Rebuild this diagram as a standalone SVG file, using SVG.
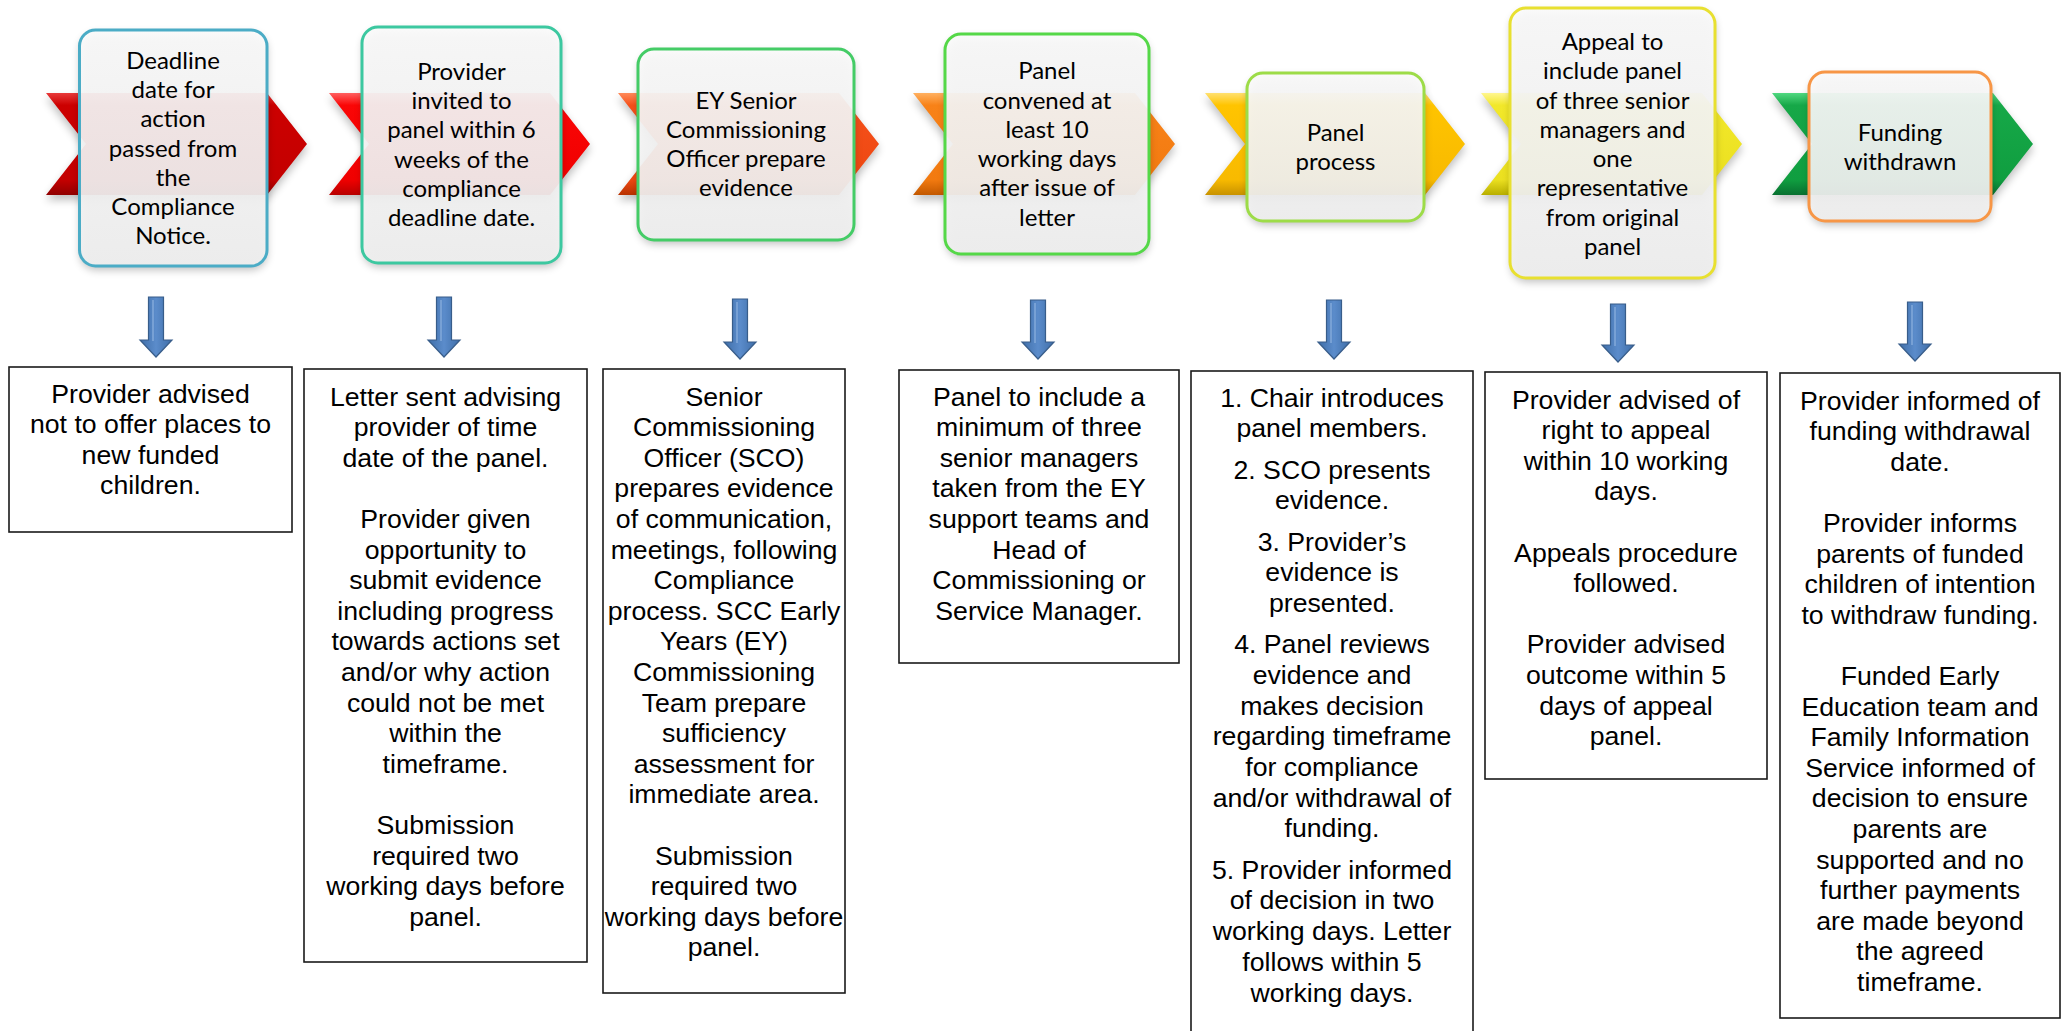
<svg xmlns="http://www.w3.org/2000/svg" width="2071" height="1031" viewBox="0 0 2071 1031">
<style>
.tt{font-family:Lato,"Open Sans",sans-serif;font-size:24px;fill:#000;text-anchor:middle}
.bt{font-family:"Liberation Sans",Arial,sans-serif;font-size:26.67px;fill:#000;text-anchor:middle}
.box{fill:url(#boxg);fill-opacity:0.92;stroke-width:3}
.db{fill:#fff;stroke:#1a1a1a;stroke-width:1.6}
.shadow{fill:#000;opacity:0.25;filter:url(#blur)}
.arr{fill:url(#arrg);stroke:#385d8a;stroke-width:1.2}
.arrh{stroke:#8fb3e0;stroke-width:1.5;fill:none;opacity:0.8}
</style>
<defs>
<filter id="blur" x="-20%" y="-20%" width="140%" height="140%"><feGaussianBlur stdDeviation="4"/></filter>
<linearGradient id="boxg" x1="0" y1="0" x2="0" y2="1"><stop offset="0" stop-color="#fbfbfb"/><stop offset="1" stop-color="#f0f0f0"/></linearGradient>
<linearGradient id="arrg" x1="0" y1="0" x2="1" y2="0"><stop offset="0" stop-color="#3f6ea8"/><stop offset="0.5" stop-color="#5b8ccb"/><stop offset="1" stop-color="#3f6ea8"/></linearGradient>
<linearGradient id="c1" x1="0" y1="0" x2="0" y2="1"><stop offset="0" stop-color="#e83a3a"/><stop offset="0.12" stop-color="#cc0000"/><stop offset="0.85" stop-color="#c40000"/><stop offset="1" stop-color="#900000"/></linearGradient>
<linearGradient id="c2" x1="0" y1="0" x2="0" y2="1"><stop offset="0" stop-color="#ff6060"/><stop offset="0.12" stop-color="#fa0606"/><stop offset="0.85" stop-color="#f00000"/><stop offset="1" stop-color="#b80000"/></linearGradient>
<linearGradient id="c3" x1="0" y1="0" x2="0" y2="1"><stop offset="0" stop-color="#ff8a5a"/><stop offset="0.12" stop-color="#f5501a"/><stop offset="0.85" stop-color="#ee4812"/><stop offset="1" stop-color="#b83200"/></linearGradient>
<linearGradient id="c4" x1="0" y1="0" x2="0" y2="1"><stop offset="0" stop-color="#ffb060"/><stop offset="0.12" stop-color="#f88218"/><stop offset="0.85" stop-color="#f27a10"/><stop offset="1" stop-color="#c25800"/></linearGradient>
<linearGradient id="c5" x1="0" y1="0" x2="0" y2="1"><stop offset="0" stop-color="#ffe070"/><stop offset="0.12" stop-color="#ffc400"/><stop offset="0.85" stop-color="#f8ba00"/><stop offset="1" stop-color="#c89200"/></linearGradient>
<linearGradient id="c6" x1="0" y1="0" x2="0" y2="1"><stop offset="0" stop-color="#fff690"/><stop offset="0.12" stop-color="#f2e82a"/><stop offset="0.85" stop-color="#ebe020"/><stop offset="1" stop-color="#b8ae00"/></linearGradient>
<linearGradient id="c7" x1="0" y1="0" x2="0" y2="1"><stop offset="0" stop-color="#50d880"/><stop offset="0.12" stop-color="#16a848"/><stop offset="0.85" stop-color="#109e40"/><stop offset="1" stop-color="#087030"/></linearGradient>
</defs>
<rect width="2071" height="1031" fill="#fff"/>

<g id="step1">
<path class="shadow" d="M46,98 H267 L307,149 L267,200 H46 L86,149 Z"/>
<path fill="url(#c1)" d="M46,93 H267 L307,144 L267,195 H46 L86,144 Z"/>
<rect class="shadow" x="80" y="34" width="187" height="236" rx="16"/>
<rect class="box" stroke="#4bacc6" x="79.5" y="30" width="187.5" height="236" rx="16"/>
<text class="tt" x="173" y="68.6"><tspan x="173">Deadline</tspan><tspan x="173" dy="29.3">date for</tspan><tspan x="173" dy="29.3">action</tspan><tspan x="173" dy="29.3">passed from</tspan><tspan x="173" dy="29.3">the</tspan><tspan x="173" dy="29.3">Compliance</tspan><tspan x="173" dy="29.3">Notice.</tspan></text>
</g>

<g id="step2">
<path class="shadow" d="M329,98 H550 L590,149 L550,200 H329 L369,149 Z"/>
<path fill="url(#c2)" d="M329,93 H550 L590,144 L550,195 H329 L369,144 Z"/>
<rect class="shadow" x="363" y="31" width="198" height="236" rx="16"/>
<rect class="box" stroke="#3cc8a0" x="362" y="27" width="199" height="236" rx="16"/>
<text class="tt" x="461.5" y="79.75"><tspan x="461.5">Provider</tspan><tspan x="461.5" dy="29.3">invited to</tspan><tspan x="461.5" dy="29.3">panel within 6</tspan><tspan x="461.5" dy="29.3">weeks of the</tspan><tspan x="461.5" dy="29.3">compliance</tspan><tspan x="461.5" dy="29.3">deadline date.</tspan></text>
</g>

<g id="step3">
<path class="shadow" d="M618,98 H839 L879,149 L839,200 H618 L658,149 Z"/>
<path fill="url(#c3)" d="M618,93 H839 L879,144 L839,195 H618 L658,144 Z"/>
<rect class="shadow" x="639" y="53" width="215" height="191" rx="16"/>
<rect class="box" stroke="#44cc66" x="638" y="49" width="216" height="191" rx="16"/>
<text class="tt" x="746" y="108.5"><tspan x="746">EY Senior</tspan><tspan x="746" dy="29.3">Commissioning</tspan><tspan x="746" dy="29.3">Officer prepare</tspan><tspan x="746" dy="29.3">evidence</tspan></text>
</g>

<g id="step4">
<path class="shadow" d="M913,98 H1135 L1175,149 L1135,200 H913 L953,149 Z"/>
<path fill="url(#c4)" d="M913,93 H1135 L1175,144 L1135,195 H913 L953,144 Z"/>
<rect class="shadow" x="946" y="38" width="203" height="220" rx="16"/>
<rect class="box" stroke="#55d848" x="945" y="34" width="204" height="220" rx="16"/>
<text class="tt" x="1047" y="79.25"><tspan x="1047">Panel</tspan><tspan x="1047" dy="29.3">convened at</tspan><tspan x="1047" dy="29.3">least 10</tspan><tspan x="1047" dy="29.3">working days</tspan><tspan x="1047" dy="29.3">after issue of</tspan><tspan x="1047" dy="29.3">letter</tspan></text>
</g>

<g id="step5">
<path class="shadow" d="M1205,98 H1425 L1465,149 L1425,200 H1205 L1245,149 Z"/>
<path fill="url(#c5)" d="M1205,93 H1425 L1465,144 L1425,195 H1205 L1245,144 Z"/>
<rect class="shadow" x="1248" y="77" width="176" height="148" rx="16"/>
<rect class="box" stroke="#9ddc48" x="1247" y="73" width="177" height="148" rx="16"/>
<text class="tt" x="1335.5" y="140.85"><tspan x="1335.5">Panel</tspan><tspan x="1335.5" dy="29.3">process</tspan></text>
</g>

<g id="step6">
<path class="shadow" d="M1481,98 H1702 L1742,149 L1702,200 H1481 L1521,149 Z"/>
<path fill="url(#c6)" d="M1481,93 H1702 L1742,144 L1702,195 H1481 L1521,144 Z"/>
<rect class="shadow" x="1511" y="12" width="204" height="270" rx="16"/>
<rect class="box" stroke="#e8e030" x="1510" y="8" width="205" height="270" rx="16"/>
<text class="tt" x="1612.5" y="49.95"><tspan x="1612.5">Appeal to</tspan><tspan x="1612.5" dy="29.3">include panel</tspan><tspan x="1612.5" dy="29.3">of three senior</tspan><tspan x="1612.5" dy="29.3">managers and</tspan><tspan x="1612.5" dy="29.3">one</tspan><tspan x="1612.5" dy="29.3">representative</tspan><tspan x="1612.5" dy="29.3">from original</tspan><tspan x="1612.5" dy="29.3">panel</tspan></text>
</g>

<g id="step7">
<path class="shadow" d="M1772,98 H1993 L2033,149 L1993,200 H1772 L1812,149 Z"/>
<path fill="url(#c7)" d="M1772,93 H1993 L2033,144 L1993,195 H1772 L1812,144 Z"/>
<rect class="shadow" x="1810" y="76" width="181" height="149" rx="16"/>
<rect class="box" stroke="#f79646" x="1809" y="72" width="182" height="149" rx="16"/>
<text class="tt" x="1900" y="140.85"><tspan x="1900">Funding</tspan><tspan x="1900" dy="29.3">withdrawn</tspan></text>
</g>

<g id="connectors">
<path class="arr" d="M148.5,297 H163.5 V340 H172 L156,357 L140,340 H148.5 Z"/>
<path class="arrh" d="M153,300 V341"/>
<path class="arr" d="M436.5,297 H451.5 V340 H460 L444,357 L428,340 H436.5 Z"/>
<path class="arrh" d="M441,300 V341"/>
<path class="arr" d="M732.5,299 H747.5 V342 H756 L740,359 L724,342 H732.5 Z"/>
<path class="arrh" d="M737,302 V343"/>
<path class="arr" d="M1030.5,300 H1045.5 V342 H1054 L1038,359 L1022,342 H1030.5 Z"/>
<path class="arrh" d="M1035,303 V343"/>
<path class="arr" d="M1326.5,300 H1341.5 V342 H1350 L1334,359 L1318,342 H1326.5 Z"/>
<path class="arrh" d="M1331,303 V343"/>
<path class="arr" d="M1610.5,304 H1625.5 V345 H1634 L1618,362 L1602,345 H1610.5 Z"/>
<path class="arrh" d="M1615,307 V346"/>
<path class="arr" d="M1907.5,302 H1922.5 V344 H1931 L1915,361 L1899,344 H1907.5 Z"/>
<path class="arrh" d="M1912,305 V345"/>
</g>

<g id="detail1">
<rect class="db" x="9" y="367" width="283" height="165"/>
<text class="bt" x="150.5" y="402.5"><tspan x="150.5">Provider advised</tspan><tspan x="150.5" dy="30.6">not to offer places to</tspan><tspan x="150.5" dy="30.6">new funded</tspan><tspan x="150.5" dy="30.6">children.</tspan></text>
</g>

<g id="detail2">
<rect class="db" x="304" y="369" width="283" height="593"/>
<text class="bt" x="445.5" y="405.5"><tspan x="445.5">Letter sent advising</tspan><tspan x="445.5" dy="30.6">provider of time</tspan><tspan x="445.5" dy="30.6">date of the panel.</tspan><tspan x="445.5" dy="61.2">Provider given</tspan><tspan x="445.5" dy="30.6">opportunity to</tspan><tspan x="445.5" dy="30.6">submit evidence</tspan><tspan x="445.5" dy="30.6">including progress</tspan><tspan x="445.5" dy="30.6">towards actions set</tspan><tspan x="445.5" dy="30.6">and/or why action</tspan><tspan x="445.5" dy="30.6">could not be met</tspan><tspan x="445.5" dy="30.6">within the</tspan><tspan x="445.5" dy="30.6">timeframe.</tspan><tspan x="445.5" dy="61.2">Submission</tspan><tspan x="445.5" dy="30.6">required two</tspan><tspan x="445.5" dy="30.6">working days before</tspan><tspan x="445.5" dy="30.6">panel.</tspan></text>
</g>

<g id="detail3">
<rect class="db" x="603" y="369" width="242" height="624"/>
<text class="bt" x="724" y="405.5"><tspan x="724">Senior</tspan><tspan x="724" dy="30.6">Commissioning</tspan><tspan x="724" dy="30.6">Officer (SCO)</tspan><tspan x="724" dy="30.6">prepares evidence</tspan><tspan x="724" dy="30.6">of communication,</tspan><tspan x="724" dy="30.6">meetings, following</tspan><tspan x="724" dy="30.6">Compliance</tspan><tspan x="724" dy="30.6">process. SCC Early</tspan><tspan x="724" dy="30.6">Years (EY)</tspan><tspan x="724" dy="30.6">Commissioning</tspan><tspan x="724" dy="30.6">Team prepare</tspan><tspan x="724" dy="30.6">sufficiency</tspan><tspan x="724" dy="30.6">assessment for</tspan><tspan x="724" dy="30.6">immediate area.</tspan><tspan x="724" dy="61.2">Submission</tspan><tspan x="724" dy="30.6">required two</tspan><tspan x="724" dy="30.6">working days before</tspan><tspan x="724" dy="30.6">panel.</tspan></text>
</g>

<g id="detail4">
<rect class="db" x="899" y="370" width="280" height="293"/>
<text class="bt" x="1039" y="405.5"><tspan x="1039">Panel to include a</tspan><tspan x="1039" dy="30.6">minimum of three</tspan><tspan x="1039" dy="30.6">senior managers</tspan><tspan x="1039" dy="30.6">taken from the EY</tspan><tspan x="1039" dy="30.6">support teams and</tspan><tspan x="1039" dy="30.6">Head of</tspan><tspan x="1039" dy="30.6">Commissioning or</tspan><tspan x="1039" dy="30.6">Service Manager.</tspan></text>
</g>

<g id="detail5">
<rect class="db" x="1191" y="371" width="282" height="680"/>
<text class="bt" x="1332" y="406.5"><tspan x="1332">1. Chair introduces</tspan><tspan x="1332" dy="30.7">panel members.</tspan><tspan x="1332" dy="41.3">2. SCO presents</tspan><tspan x="1332" dy="30.7">evidence.</tspan><tspan x="1332" dy="41.3">3. Provider’s</tspan><tspan x="1332" dy="30.7">evidence is</tspan><tspan x="1332" dy="30.7">presented.</tspan><tspan x="1332" dy="41.3">4. Panel reviews</tspan><tspan x="1332" dy="30.7">evidence and</tspan><tspan x="1332" dy="30.7">makes decision</tspan><tspan x="1332" dy="30.7">regarding timeframe</tspan><tspan x="1332" dy="30.7">for compliance</tspan><tspan x="1332" dy="30.7">and/or withdrawal of</tspan><tspan x="1332" dy="30.7">funding.</tspan><tspan x="1332" dy="41.3">5. Provider informed</tspan><tspan x="1332" dy="30.7">of decision in two</tspan><tspan x="1332" dy="30.7">working days. Letter</tspan><tspan x="1332" dy="30.7">follows within 5</tspan><tspan x="1332" dy="30.7">working days.</tspan></text>
</g>

<g id="detail6">
<rect class="db" x="1485" y="372" width="282" height="407"/>
<text class="bt" x="1626" y="408.5"><tspan x="1626">Provider advised of</tspan><tspan x="1626" dy="30.6">right to appeal</tspan><tspan x="1626" dy="30.6">within 10 working</tspan><tspan x="1626" dy="30.6">days.</tspan><tspan x="1626" dy="61.2">Appeals procedure</tspan><tspan x="1626" dy="30.6">followed.</tspan><tspan x="1626" dy="61.2">Provider advised</tspan><tspan x="1626" dy="30.6">outcome within 5</tspan><tspan x="1626" dy="30.6">days of appeal</tspan><tspan x="1626" dy="30.6">panel.</tspan></text>
</g>

<g id="detail7">
<rect class="db" x="1780" y="373" width="280" height="645"/>
<text class="bt" x="1920" y="409.5"><tspan x="1920">Provider informed of</tspan><tspan x="1920" dy="30.6">funding withdrawal</tspan><tspan x="1920" dy="30.6">date.</tspan><tspan x="1920" dy="61.2">Provider informs</tspan><tspan x="1920" dy="30.6">parents of funded</tspan><tspan x="1920" dy="30.6">children of intention</tspan><tspan x="1920" dy="30.6">to withdraw funding.</tspan><tspan x="1920" dy="61.2">Funded Early</tspan><tspan x="1920" dy="30.6">Education team and</tspan><tspan x="1920" dy="30.6">Family Information</tspan><tspan x="1920" dy="30.6">Service informed of</tspan><tspan x="1920" dy="30.6">decision to ensure</tspan><tspan x="1920" dy="30.6">parents are</tspan><tspan x="1920" dy="30.6">supported and no</tspan><tspan x="1920" dy="30.6">further payments</tspan><tspan x="1920" dy="30.6">are made beyond</tspan><tspan x="1920" dy="30.6">the agreed</tspan><tspan x="1920" dy="30.6">timeframe.</tspan></text>
</g>
</svg>
